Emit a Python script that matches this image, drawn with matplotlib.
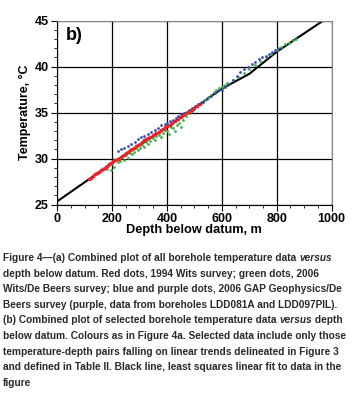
import matplotlib.pyplot as plt
from matplotlib.ticker import MultipleLocator

# Selected borehole data (depth below datum m, temperature C)
red_depth = [115, 122, 130, 138, 145, 152, 160, 168, 175, 182, 190, 198, 205, 212, 220,
             228, 235, 242, 250, 258, 265, 272, 280, 288, 295, 302, 310, 318, 325, 332,
             340, 348, 355, 362, 370, 378, 385, 392, 400, 410, 420, 430, 440, 450, 460,
             470, 480, 490, 500, 510, 520]
red_temp = [27.8, 27.9, 28.1, 28.3, 28.4, 28.5, 28.8, 28.9, 29.0, 29.2, 29.4, 29.5, 29.7, 29.8, 30.0,
            30.1, 30.3, 30.4, 30.6, 30.7, 30.9, 31.0, 31.2, 31.4, 31.5, 31.6, 31.8, 32.0, 32.1, 32.2,
            32.4, 32.6, 32.7, 32.8, 32.9, 33.1, 33.2, 33.4, 33.5, 33.7, 33.9, 34.1, 34.3, 34.5, 34.7,
            34.9, 35.1, 35.3, 35.5, 35.7, 35.9]

green_depth = [180, 188, 195, 200, 208, 215, 222, 230, 238, 245, 252, 258, 265, 272, 280,
               288, 295, 302, 310, 318, 325, 332, 340, 348, 355, 362, 370, 378, 385, 392,
               400, 408, 415, 422, 430, 438, 445, 452, 460, 470, 480, 490, 500, 510, 520,
               530, 540, 550, 560, 570, 580, 590, 600, 610, 620, 640, 660, 680, 700, 720,
               740, 760, 780, 800, 815, 830, 845, 860, 870]
green_temp = [28.9, 29.3, 28.8, 29.4, 29.1, 29.8, 29.6, 29.7, 30.2, 29.9, 30.4, 30.1, 30.6, 30.5, 30.7,
              31.1, 30.9, 31.2, 31.5, 31.3, 31.8, 31.6, 31.9, 32.2, 32.0, 32.5, 32.6, 32.4, 32.8, 33.1,
              33.0, 32.7, 33.4, 33.3, 33.0, 33.7, 33.9, 33.4, 34.2, 34.6, 34.9, 35.2, 35.4, 35.7, 35.9,
              36.2, 36.4, 36.7, 36.9, 37.2, 37.4, 37.7, 37.8, 38.0, 38.2, 38.5, 38.9, 39.3, 39.7, 40.2,
              40.6, 41.0, 41.4, 41.8, 42.1, 42.4, 42.6, 42.9, 43.0]

blue_depth = [222, 232, 245, 258, 270, 282, 295, 305, 318, 330, 342, 355, 368, 380, 392,
              402, 412, 422, 432, 442, 452, 462, 472, 482, 492, 502, 515, 530, 545, 560,
              575, 590, 600, 612, 625, 640, 655, 667, 680, 697, 710, 721, 734, 746, 760,
              771, 782, 794, 806]
blue_temp = [30.8, 31.0, 31.1, 31.4, 31.6, 31.8, 32.1, 32.3, 32.5, 32.7, 32.9, 33.1, 33.3, 33.6, 33.8,
             33.9, 34.1, 34.2, 34.4, 34.6, 34.8, 34.9, 35.1, 35.3, 35.5, 35.7, 35.9, 36.2, 36.5, 36.8,
             37.1, 37.4, 37.5, 37.8, 38.1, 38.5, 39.0, 39.4, 39.7, 40.0, 40.3, 40.5, 40.8, 41.0, 41.2,
             41.4, 41.6, 41.8, 42.0]

# Least squares fit line (as drawn)
fit_depth = [0, 200, 400, 600, 700, 800, 970]
fit_temp = [25.35, 29.5, 33.4, 37.6, 39.2, 41.6, 45.0]

caption = [
    "Figure 4\u2014(a) Combined plot of all borehole temperature data ",
    "depth below datum. Red dots, 1994 Wits survey; green dots, 2006",
    "Wits/De Beers survey; blue and purple dots, 2006 GAP Geophysics/De",
    "Beers survey (purple, data from boreholes LDD081A and LDD097PIL).",
    "(b) Combined plot of selected borehole temperature data ",
    "below datum. Colours as in Figure 4a. Selected data include only those",
    "temperature-depth pairs falling on linear trends delineated in Figure 3",
    "and defined in Table II. Black line, least squares linear fit to data in the",
    "figure",
]

plt.rcParams['font.family'] = ['Liberation Sans', 'DejaVu Sans']

fig = plt.figure(figsize=(3.55, 3.95), dpi=100)
ax = fig.add_axes([0.161, 0.482, 0.773, 0.466])

ax.plot(fit_depth, fit_temp, color='black', lw=1.5, zorder=2)
ax.scatter(green_depth, green_temp, s=4, color='#43b04a', lw=0, zorder=3)
ax.scatter(blue_depth, blue_temp, s=4, color='#3a4fb4', lw=0, zorder=4)
ax.scatter(red_depth, red_temp, s=7, color='#e8262a', lw=0, zorder=5)

ax.set_xlim(0, 1000)
ax.set_ylim(25, 45)
ax.xaxis.set_major_locator(MultipleLocator(200))
ax.xaxis.set_minor_locator(MultipleLocator(50))
ax.yaxis.set_major_locator(MultipleLocator(5))
ax.yaxis.set_minor_locator(MultipleLocator(1))
ax.grid(which='major', color='black', lw=0.9)
ax.set_axisbelow(True)
ax.tick_params(which='major', direction='out', length=4, width=0.8, labelsize=9, pad=2)
ax.tick_params(which='minor', direction='out', length=2, width=0.6)
for lab in ax.get_xticklabels() + ax.get_yticklabels():
    lab.set_fontweight('bold')
for side in ['top', 'right']:
    ax.spines[side].set_color('#888888')

ax.set_xlabel('Depth below datum, m', fontsize=9.2, fontweight='bold', labelpad=-1)
ax.set_ylabel('Temperature, \u00b0C', fontsize=9, fontweight='bold', labelpad=3)
ax.text(0.03, 0.965, 'b)', transform=ax.transAxes, fontsize=13, fontweight='bold',
        va='top', ha='left')

# Caption
y0 = 395 - 263
for i, line in enumerate(caption):
    t = fig.text(3 / 355, (y0 - i * 15.6) / 395, line, fontsize=7.3, fontweight='bold',
                 color='#2a2a2a', va='bottom', ha='left')
    if i == 0:
        ax.annotate('versus', xy=(1, 0), xycoords=t, fontsize=7.3, fontweight='bold',
                    style='italic', color='#2a2a2a', va='bottom', ha='left',
                    annotation_clip=False)
    if i == 4:
        t2 = ax.annotate('versus', xy=(1, 0), xycoords=t, fontsize=7.3, fontweight='bold',
                         style='italic', color='#2a2a2a', va='bottom', ha='left',
                         annotation_clip=False)
        ax.annotate(' depth', xy=(1, 0), xycoords=t2, fontsize=7.3, fontweight='bold',
                    color='#2a2a2a', va='bottom', ha='left', annotation_clip=False)

fig.savefig('out.png', dpi=100)
